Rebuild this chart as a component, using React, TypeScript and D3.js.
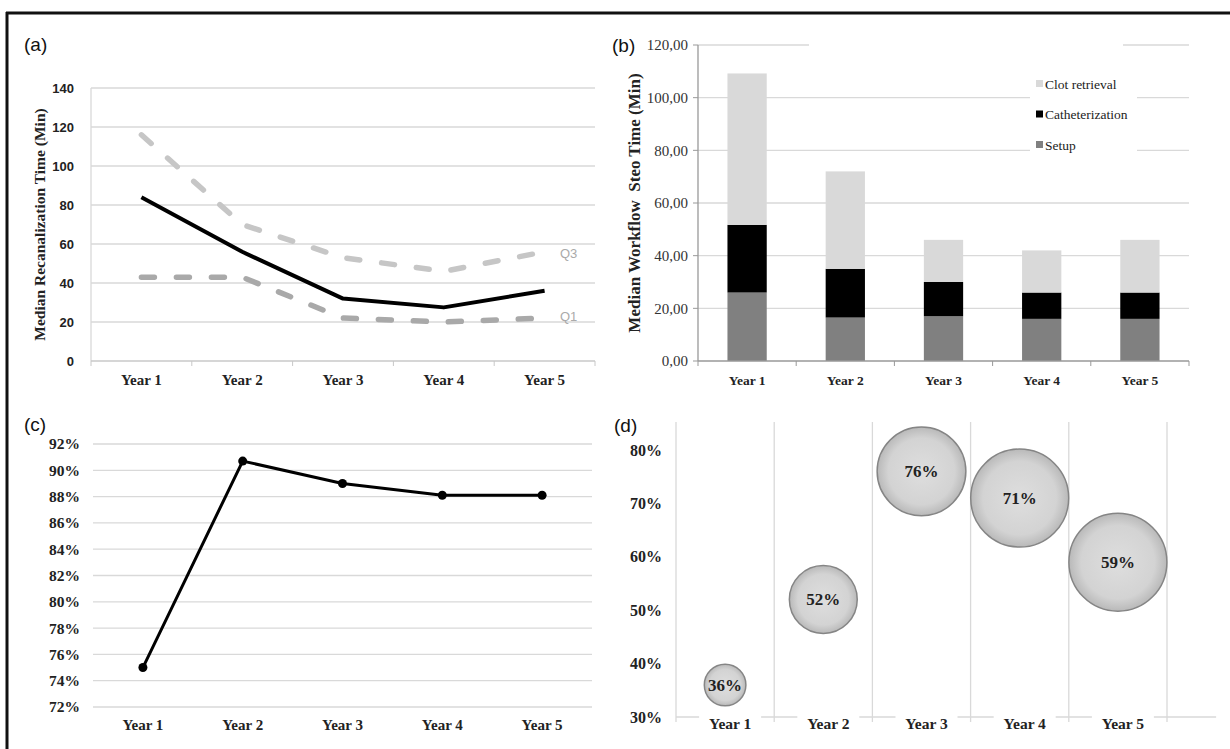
import React, { useEffect, useRef } from "react";
import * as d3 from "d3";

// categories
const years = ["Year 1", "Year 2", "Year 3", "Year 4", "Year 5"];

// (a) recanalization time, minutes
const medianTime = [84, 56, 32, 27.5, 36];
const q3Time = [116, 70, 53, 46, 56];
const q1Time = [43, 43, 22, 20, 22];
const ticksA = [0, 20, 40, 60, 80, 100, 120, 140];

// (b) workflow step times, minutes
const setupTime = [26, 16.5, 17, 16, 16];
const catheterTime = [25.7, 18.5, 13, 10, 10];
const clotTime = [57.5, 37, 16, 16, 20];
const stepNames = ["Clot retrieval", "Catheterization", "Setup"];
const ticksB = [0, 20, 40, 60, 80, 100, 120];

// (c) rate, percent
const rateC = [75, 90.7, 89, 88.1, 88.1];
const ticksC = [72, 74, 76, 78, 80, 82, 84, 86, 88, 90, 92];

// (d) bubble rate, percent, and relative bubble size
const rateD = [36, 52, 76, 71, 59];
const bubbleSize = [18, 48, 82, 100, 100];
const ticksD = [30, 40, 50, 60, 70, 80];

const SERIF = "'Liberation Serif', 'Times New Roman', serif";
const SANS = "'Liberation Sans', Arial, sans-serif";
const GRID = "#d9d9d9";

const App = () => {
  const ref = useRef<SVGSVGElement>(null);

  useEffect(() => {
    const svg = d3.select(ref.current);
    svg.selectAll("*").remove();

    svg.append("rect").attr("width", 1230).attr("height", 749).attr("fill", "#fff");

    // frame
    svg.append("line").attr("x1", 7).attr("x2", 7).attr("y1", 12).attr("y2", 749)
      .attr("stroke", "#111").attr("stroke-width", 3);
    svg.append("line").attr("x1", 6).attr("x2", 1230).attr("y1", 13).attr("y2", 13)
      .attr("stroke", "#111").attr("stroke-width", 3);

    const panelLabel = (t: string, x: number, y: number) =>
      svg.append("text").attr("x", x).attr("y", y).text(t)
        .attr("font-family", SANS).attr("font-size", 19).attr("fill", "#111");

    // ---------- (a) ----------
    const gA = svg.append("g");
    const xA = d3.scaleBand().domain(years).range([91, 595]);
    const yA = d3.scaleLinear().domain([0, 140]).range([361, 88]);
    const cA = (i: number) => xA(years[i])! + xA.bandwidth() / 2;

    gA.selectAll("line.grid").data(ticksA.slice(1)).join("line")
      .attr("x1", 91).attr("x2", 595).attr("y1", (d) => yA(d)).attr("y2", (d) => yA(d))
      .attr("stroke", GRID).attr("stroke-width", 1.3);
    gA.append("line").attr("x1", 91).attr("x2", 91).attr("y1", yA(140)).attr("y2", yA(0))
      .attr("stroke", GRID).attr("stroke-width", 1.3);
    gA.append("line").attr("x1", 91).attr("x2", 595).attr("y1", yA(0)).attr("y2", yA(0))
      .attr("stroke", "#c8c8c8").attr("stroke-width", 1.5);
    gA.selectAll("line.tick").data(d3.range(years.length + 1)).join("line")
      .attr("x1", (i) => 91 + i * xA.step()).attr("x2", (i) => 91 + i * xA.step())
      .attr("y1", yA(0)).attr("y2", yA(0) + 5).attr("stroke", "#c8c8c8");
    gA.selectAll("text.yl").data(ticksA).join("text")
      .attr("x", 74).attr("y", (d) => yA(d)).attr("dy", "0.35em").attr("text-anchor", "end")
      .attr("font-family", SANS).attr("font-weight", "bold").attr("font-size", 13).attr("fill", "#222")
      .text((d) => d);
    gA.selectAll("text.xl").data(years).join("text")
      .attr("x", (d, i) => cA(i)).attr("y", 380).attr("dy", "0.35em").attr("text-anchor", "middle")
      .attr("font-family", SERIF).attr("font-weight", "bold").attr("font-size", 15).attr("fill", "#222")
      .text((d) => d);
    gA.append("text")
      .attr("transform", `translate(40,${(yA(0) + yA(140)) / 2}) rotate(-90)`)
      .attr("text-anchor", "middle").attr("dy", "0.35em")
      .attr("font-family", SERIF).attr("font-weight", "bold").attr("font-size", 15.5).attr("fill", "#222")
      .text("Median Recanalization Time (Min)");

    const lineA = d3.line<number>().x((d, i) => cA(i)).y((d) => yA(d));
    gA.append("path").attr("d", lineA(q3Time)).attr("fill", "none")
      .attr("stroke", "#c6c6c6").attr("stroke-width", 5.5).attr("stroke-linecap", "round")
      .attr("stroke-dasharray", "13,22");
    gA.append("path").attr("d", lineA(q1Time)).attr("fill", "none")
      .attr("stroke", "#a9a9a9").attr("stroke-width", 5.5).attr("stroke-linecap", "round")
      .attr("stroke-dasharray", "13,22");
    gA.append("path").attr("d", lineA(medianTime)).attr("fill", "none")
      .attr("stroke", "#000").attr("stroke-width", 4).attr("stroke-linejoin", "round");
    gA.append("text").attr("x", 560).attr("y", yA(q3Time[4]) + 2).attr("dy", "0.35em")
      .attr("font-family", SANS).attr("font-size", 13).attr("fill", "#aaa").text("Q3");
    gA.append("text").attr("x", 560).attr("y", yA(q1Time[4]) - 2).attr("dy", "0.35em")
      .attr("font-family", SANS).attr("font-size", 13).attr("fill", "#aaa").text("Q1");
    panelLabel("(a)", 24, 51);

    // ---------- (b) ----------
    const gB = svg.append("g");
    const xB = d3.scaleBand().domain(years).range([698, 1189]).paddingInner(0.6).paddingOuter(0.3);
    const yB = d3.scaleLinear().domain([0, 120]).range([361, 45]);
    const stackData = years.map((y, i) => ({
      year: y, Setup: setupTime[i], Catheterization: catheterTime[i], "Clot retrieval": clotTime[i],
    }));
    const stack = d3.stack<any>().keys(["Setup", "Catheterization", "Clot retrieval"])(stackData);
    const colorB = d3.scaleOrdinal<string>()
      .domain(["Setup", "Catheterization", "Clot retrieval"])
      .range(["#808080", "#000000", "#d9d9d9"]);

    gB.selectAll("line.grid").data(ticksB.slice(1)).join("line")
      .attr("x1", 698).attr("x2", 1189).attr("y1", (d) => yB(d)).attr("y2", (d) => yB(d))
      .attr("stroke", GRID).attr("stroke-width", 1.3);
    // gaps in gridlines behind title area and legend
    gB.append("rect").attr("x", 809).attr("y", yB(120) - 4).attr("width", 314).attr("height", 8).attr("fill", "#fff");
    gB.append("rect").attr("x", 1030).attr("y", 68).attr("width", 107).attr("height", 92).attr("fill", "#fff");

    gB.selectAll("g.layer").data(stack).join("g")
      .attr("fill", (d) => colorB(d.key))
      .selectAll("rect").data((d) => d).join("rect")
      .attr("x", (d) => xB(d.data.year)!).attr("width", xB.bandwidth())
      .attr("y", (d) => yB(d[1])).attr("height", (d) => yB(d[0]) - yB(d[1]));

    gB.append("line").attr("x1", 698).attr("x2", 698).attr("y1", yB(120)).attr("y2", yB(0))
      .attr("stroke", "#999").attr("stroke-width", 1.3);
    gB.selectAll("line.yt").data(ticksB).join("line")
      .attr("x1", 693).attr("x2", 698).attr("y1", (d) => yB(d)).attr("y2", (d) => yB(d))
      .attr("stroke", "#999");
    gB.append("line").attr("x1", 698).attr("x2", 1189).attr("y1", yB(0)).attr("y2", yB(0))
      .attr("stroke", "#999").attr("stroke-width", 1.3);
    gB.selectAll("line.xt").data(d3.range(years.length + 1)).join("line")
      .attr("x1", (i) => 698 + i * xB.step()).attr("x2", (i) => 698 + i * xB.step())
      .attr("y1", yB(0)).attr("y2", yB(0) + 5).attr("stroke", "#999");
    const fmtB = d3.format(".2f");
    gB.selectAll("text.yl").data(ticksB).join("text")
      .attr("x", 688).attr("y", (d) => yB(d)).attr("dy", "0.35em").attr("text-anchor", "end")
      .attr("font-family", SERIF).attr("font-size", 15).attr("fill", "#333")
      .text((d) => fmtB(d).replace(".", ","));
    gB.selectAll("text.xl").data(years).join("text")
      .attr("x", (d) => xB(d)! + xB.bandwidth() / 2).attr("y", 380).attr("dy", "0.35em")
      .attr("text-anchor", "middle")
      .attr("font-family", SERIF).attr("font-weight", "bold").attr("font-size", 13.5).attr("fill", "#222")
      .text((d) => d);
    gB.append("text")
      .attr("transform", `translate(634,${(yB(0) + yB(120)) / 2}) rotate(-90)`)
      .attr("text-anchor", "middle").attr("dy", "0.35em").style("white-space", "pre")
      .attr("font-family", SERIF).attr("font-weight", "bold").attr("font-size", 17).attr("fill", "#222")
      .text("Median Workflow  Steo Time (Min)");
    const legend = gB.selectAll("g.leg").data(stepNames).join("g")
      .attr("transform", (d, i) => `translate(1036,${84 + i * 30.5})`);
    legend.append("rect").attr("x", 0).attr("y", -4).attr("width", 7).attr("height", 7)
      .attr("fill", (d) => colorB(d));
    legend.append("text").attr("x", 9).attr("dy", "0.35em")
      .attr("font-family", SERIF).attr("font-size", 13.5).attr("fill", "#222").text((d) => d);
    panelLabel("(b)", 612, 52);

    // ---------- (c) ----------
    const gC = svg.append("g");
    const xC = d3.scaleBand().domain(years).range([93, 592]);
    const yC = d3.scaleLinear().domain([72, 92]).range([707, 444]);
    const cC = (i: number) => xC(years[i])! + xC.bandwidth() / 2;
    gC.selectAll("line.grid").data(ticksC).join("line")
      .attr("x1", 93).attr("x2", 592).attr("y1", (d) => yC(d)).attr("y2", (d) => yC(d))
      .attr("stroke", GRID).attr("stroke-width", 1.3);
    gC.selectAll("text.yl").data(ticksC).join("text")
      .attr("x", 80).attr("y", (d) => yC(d)).attr("dy", "0.35em").attr("text-anchor", "end")
      .attr("font-family", SERIF).attr("font-weight", "bold").attr("font-size", 15.5).attr("fill", "#222")
      .text((d) => d + "%");
    gC.selectAll("text.xl").data(years).join("text")
      .attr("x", (d, i) => cC(i)).attr("y", 725).attr("dy", "0.35em").attr("text-anchor", "middle")
      .attr("font-family", SERIF).attr("font-weight", "bold").attr("font-size", 15).attr("fill", "#222")
      .text((d) => d);
    const lineC = d3.line<number>().x((d, i) => cC(i)).y((d) => yC(d));
    gC.append("path").attr("d", lineC(rateC)).attr("fill", "none")
      .attr("stroke", "#000").attr("stroke-width", 3).attr("stroke-linejoin", "round");
    gC.selectAll("circle").data(rateC).join("circle")
      .attr("cx", (d, i) => cC(i)).attr("cy", (d) => yC(d)).attr("r", 4.5).attr("fill", "#000");
    panelLabel("(c)", 24, 431);

    // ---------- (d) ----------
    const gD = svg.append("g");
    const xD = d3.scaleLinear().domain([0.5, 5.5]).range([676, 1167]);
    const yD = d3.scaleLinear().domain([30, 80]).range([717, 450]);
    const rD = d3.scaleSqrt().domain([0, 100]).range([0, 49]);

    const defs = svg.append("defs");
    const grad = defs.append("radialGradient").attr("id", "bubbleGrad")
      .attr("cx", "50%").attr("cy", "50%").attr("r", "50%");
    grad.append("stop").attr("offset", "0%").attr("stop-color", "#dedede");
    grad.append("stop").attr("offset", "75%").attr("stop-color", "#d3d3d3");
    grad.append("stop").attr("offset", "100%").attr("stop-color", "#b9b9b9");

    gD.selectAll("line.vg").data(d3.range(0.5, 6, 1)).join("line")
      .attr("x1", (d) => xD(d)).attr("x2", (d) => xD(d)).attr("y1", 422).attr("y2", 722)
      .attr("stroke", GRID).attr("stroke-width", 1.3);
    gD.append("line").attr("x1", xD(0.5)).attr("x2", xD(6)).attr("y1", yD(30)).attr("y2", yD(30))
      .attr("stroke", GRID).attr("stroke-width", 1.5);
    gD.selectAll("text.yl").data(ticksD).join("text")
      .attr("x", 662).attr("y", (d) => yD(d)).attr("dy", "0.35em").attr("text-anchor", "end")
      .attr("font-family", SERIF).attr("font-weight", "bold").attr("font-size", 16).attr("fill", "#222")
      .text((d) => d + "%");
    const xl = gD.selectAll("g.xl").data(years).join("g")
      .attr("transform", (d, i) => `translate(${xD(i + 1) + 5},724)`);
    xl.append("rect").attr("x", -31).attr("y", -10).attr("width", 62).attr("height", 20).attr("fill", "#fff");
    xl.append("text").attr("text-anchor", "middle").attr("dy", "0.35em")
      .attr("font-family", SERIF).attr("font-weight", "bold").attr("font-size", 15.5).attr("fill", "#222")
      .text((d) => d);

    gD.selectAll("circle").data(rateD).join("circle")
      .attr("cx", (d, i) => xD(i + 1)).attr("cy", (d) => yD(d)).attr("r", (d, i) => rD(bubbleSize[i]))
      .attr("fill", "url(#bubbleGrad)").attr("stroke", "#858585").attr("stroke-width", 1.5);
    gD.selectAll("text.bl").data(rateD).join("text")
      .attr("x", (d, i) => xD(i + 1)).attr("y", (d) => yD(d)).attr("dy", "0.35em")
      .attr("text-anchor", "middle")
      .attr("font-family", SERIF).attr("font-weight", "bold").attr("font-size", 17).attr("fill", "#222")
      .text((d) => d + "%");
    panelLabel("(d)", 614, 432);
  });

  return (
    <svg ref={ref} width={1230} height={749} style={{ position: "absolute", left: 0, top: 0 }}></svg>
  );
};

export default App;
